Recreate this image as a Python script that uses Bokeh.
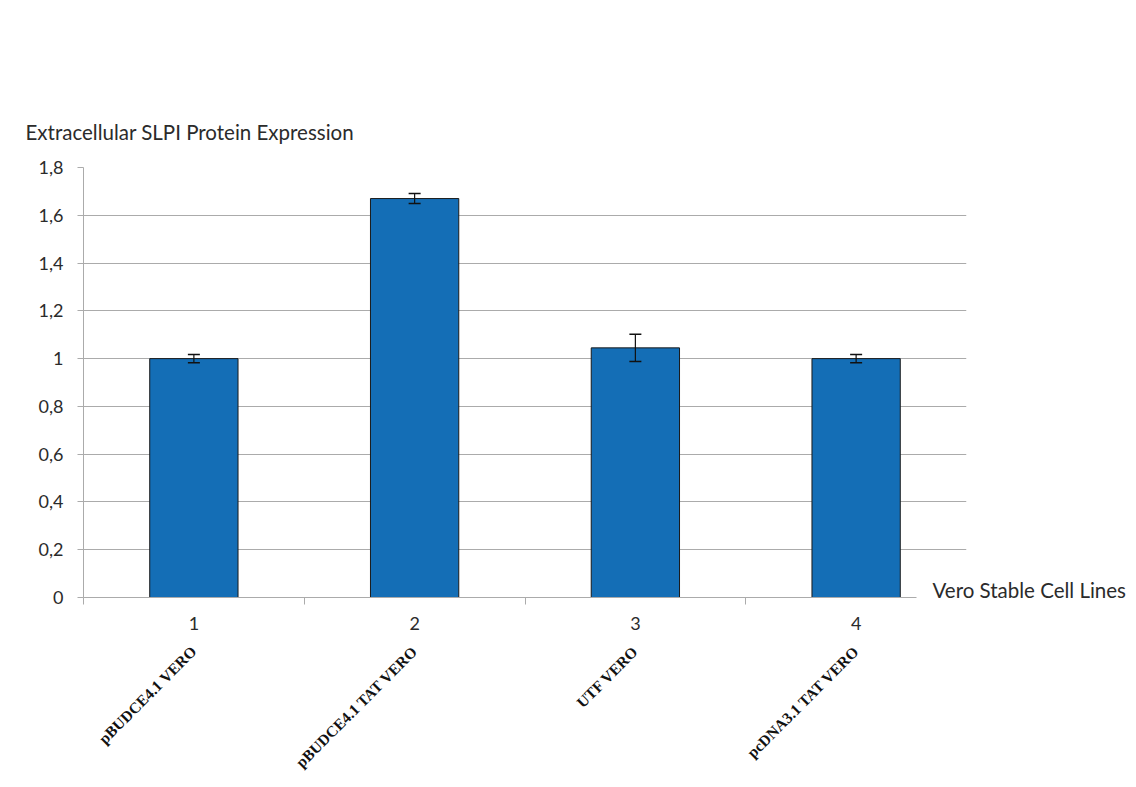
import math
from bokeh.plotting import figure
from bokeh.models import (ColumnDataSource, FixedTicker, LinearAxis, Whisker,
                          Range1d)
from bokeh.embed import file_html
from bokeh.resources import INLINE

# ---- data ----
categories = ["1", "2", "3", "4"]
cell_lines = ["pBUDCE4.1 VERO", "pBUDCE4.1 TAT VERO", "UTF VERO", "pcDNA3.1 TAT VERO"]
values = [1.00, 1.67, 1.045, 1.00]
errors = [0.017, 0.021, 0.057, 0.017]
y_ticks = [0, 0.2, 0.4, 0.6, 0.8, 1.0, 1.2, 1.4, 1.6, 1.8]
y_tick_labels = ["0", "0,2", "0,4", "0,6", "0,8", "1", "1,2", "1,4", "1,6", "1,8"]
y_title = "Extracellular SLPI Protein Expression"
x_title = "Vero Stable Cell Lines"

centers = [i + 0.5 for i in range(len(categories))]
bounds = list(range(len(categories)))  # category separators (last one hidden by caption)

src = ColumnDataSource(dict(
    x=centers, top=values,
    upper=[v + e for v, e in zip(values, errors)],
    lower=[v - e for v, e in zip(values, errors)],
))

GRID = "#ababab"
TXT = "#2b2b2b"
FONT = "Lato"

W, H = 1128, 779
p = figure(width=W, height=H, output_backend="svg", toolbar_location=None,
           x_range=Range1d(0, len(categories)), y_range=Range1d(0, 1.8),
           min_border_left=83, min_border_right=W - 966, min_border_top=167,
           min_border_bottom=H - 597)
p.outline_line_color = None
p.background_fill_color = "white"
p.border_fill_color = "white"

# title (horizontal y-axis caption above the plot)
p.title.text = y_title
p.title.align = "left"
p.title.offset = -58
p.title.standoff = 48
p.title.text_font = FONT
p.title.text_font_size = "20.5px"
p.title.text_font_style = "normal"
p.title.text_color = TXT

p.vbar(x="x", top="top", width=0.4, bottom=0, source=src,
       fill_color="#146EB6", line_color="#1a1a1a", line_width=1)

w = Whisker(base="x", upper="upper", lower="lower", source=src,
            line_color="#111111", line_width=1.2, level="overlay")
for h in (w.upper_head, w.lower_head):
    h.size = 12
    h.line_color = "#111111"
    h.line_width = 1.5
p.add_layout(w)

# grid
p.xgrid.grid_line_color = None
p.ygrid.grid_line_color = GRID
p.ygrid.grid_line_width = 1
p.ygrid.ticker = FixedTicker(ticks=y_ticks[1:])

# y axis
ya = p.yaxis[0]
ya.ticker = FixedTicker(ticks=y_ticks)
ya.major_label_overrides = {t: s for t, s in zip(y_ticks, y_tick_labels)}
ya.axis_line_color = GRID
ya.major_tick_line_color = GRID
ya.major_tick_out = 6
ya.major_tick_in = 0
ya.minor_tick_line_color = None
ya.major_label_standoff = 14
ya.major_label_text_font = FONT
ya.major_label_text_font_size = "18px"
ya.major_label_text_color = TXT

# x axis (numbers)
xa = p.xaxis[0]
xa.ticker = FixedTicker(ticks=centers, minor_ticks=bounds)
xa.major_label_overrides = {c: s for c, s in zip(centers, categories)}
xa.bounds = (0, 3.775)
xa.axis_line_color = GRID
xa.major_tick_line_color = None
xa.major_tick_out = 0
xa.major_tick_in = 0
xa.minor_tick_line_color = GRID
xa.minor_tick_out = 7
xa.minor_tick_in = 0
xa.major_label_standoff = 12
xa.major_label_text_font = FONT
xa.major_label_text_font_size = "18px"
xa.major_label_text_color = TXT

# x axis (rotated names)
xa2 = LinearAxis(ticker=FixedTicker(ticks=centers),
                 major_label_overrides={c: s for c, s in zip(centers, cell_lines)},
                 major_label_orientation=math.pi / 4)
xa2.axis_line_color = None
xa2.major_tick_line_color = None
xa2.minor_tick_line_color = None
xa2.major_tick_out = 0
xa2.major_tick_in = 0
xa2.major_label_standoff = 16
xa2.major_label_text_font = "Liberation Serif"
xa2.major_label_text_font_style = "bold"
xa2.major_label_text_font_size = "15.5px"
xa2.major_label_text_color = "#111111"
p.add_layout(xa2, "below")

# x caption on the right, just above the zero line
cap_y = 0.03
ra = LinearAxis(ticker=FixedTicker(ticks=[cap_y]), major_label_overrides={cap_y: x_title})
ra.axis_line_color = None
ra.major_tick_line_color = None
ra.minor_tick_line_color = None
ra.major_tick_out = 0
ra.major_tick_in = 0
ra.major_label_standoff = -34
ra.major_label_text_font = FONT
ra.major_label_text_font_size = "20.5px"
ra.major_label_text_color = TXT
p.add_layout(ra, "right")

open("out.html", "w").write(file_html(p, INLINE))
